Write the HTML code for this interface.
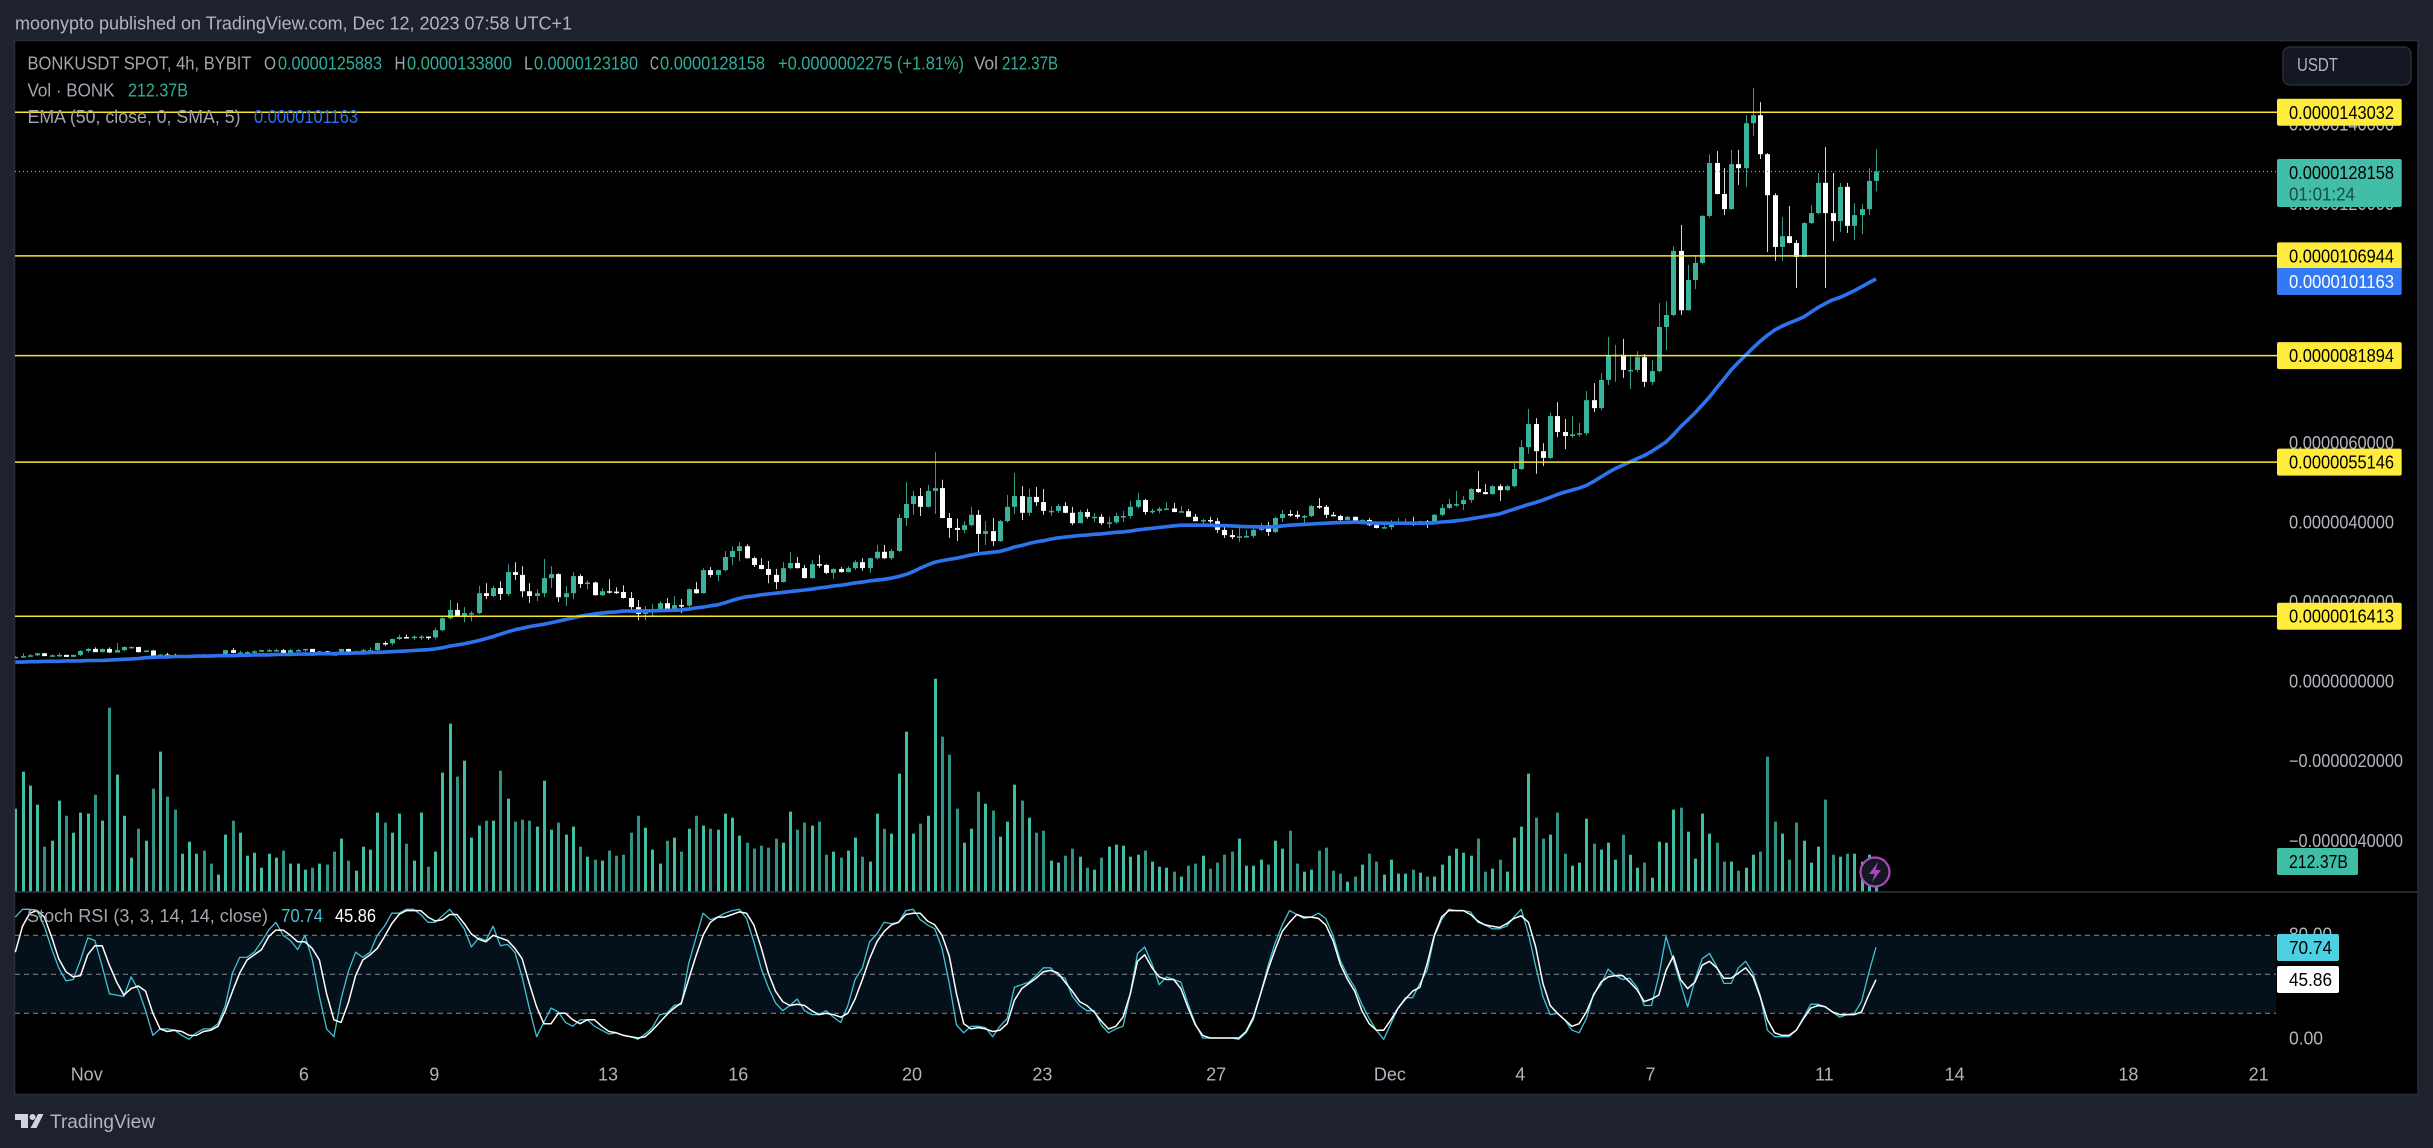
<!DOCTYPE html>
<html lang="en">
<head>
<meta charset="utf-8">
<title>BONKUSDT chart</title>
<style>
html,body{margin:0;padding:0;background:#1e222d;width:2433px;height:1148px;overflow:hidden}
svg{display:block;font-family:"Liberation Sans",sans-serif}
</style>
</head>
<body>
<svg id="chart" xmlns="http://www.w3.org/2000/svg" width="2433" height="1148" viewBox="0 0 2433 1148">
  <defs><clipPath id="plotClip"><rect x="15" y="41" width="2262" height="1053"/></clipPath></defs>
  <rect x="0" y="0" width="2433" height="1148" fill="#1e222d"/>
  <text x="15" y="29.5" font-size="18" fill="#b2b5be" textLength="557" lengthAdjust="spacingAndGlyphs">moonypto published on TradingView.com, Dec 12, 2023 07:58 UTC+1</text>
  <rect x="14.5" y="40.5" width="2403.5" height="1054" fill="#000" stroke="#2a2e39" stroke-width="1.5"/>
  <rect x="15.5" y="935.3" width="2260.5" height="78" fill="#05111a"/>
  <g id="priceTicks"></g>
  <g id="stochTicks"></g>
  <g id="stochGuides"></g>
  <g id="volumeBars" clip-path="url(#plotClip)"></g>
  <g id="candles" clip-path="url(#plotClip)"></g>
  <path id="emaLine" fill="none" stroke="#2e73ee" stroke-width="3.6" stroke-linejoin="round" clip-path="url(#plotClip)"/>
  <path id="kLine" fill="none" stroke="#3fc3d6" stroke-width="1.3" stroke-linejoin="round"/>
  <path id="dLine" fill="none" stroke="#ffffff" stroke-width="1.5" stroke-linejoin="round"/>
  <g id="hLines"></g>
  <line id="lastLine" x1="15" x2="2276" stroke="#40bda5" stroke-width="1.3" stroke-dasharray="1 3"/>
  <line x1="15" x2="2418" y1="892" y2="892" fill="none" stroke="#2f3240" stroke-width="1.5"/>

  <g font-size="18">
    <text x="27.5" y="69.5" fill="#a3a6af" textLength="224" lengthAdjust="spacingAndGlyphs">BONKUSDT SPOT, 4h, BYBIT</text>
    <text x="264" y="69.5" fill="#a3a6af" textLength="12" lengthAdjust="spacingAndGlyphs">O</text>
    <text x="278" y="69.5" fill="#2fae96" textLength="104" lengthAdjust="spacingAndGlyphs">0.0000125883</text>
    <text x="394.5" y="69.5" fill="#a3a6af" textLength="11" lengthAdjust="spacingAndGlyphs">H</text>
    <text x="407" y="69.5" fill="#2fae96" textLength="105" lengthAdjust="spacingAndGlyphs">0.0000133800</text>
    <text x="524" y="69.5" fill="#a3a6af" textLength="9" lengthAdjust="spacingAndGlyphs">L</text>
    <text x="534" y="69.5" fill="#2fae96" textLength="104" lengthAdjust="spacingAndGlyphs">0.0000123180</text>
    <text x="650" y="69.5" fill="#a3a6af" textLength="9" lengthAdjust="spacingAndGlyphs">C</text>
    <text x="660" y="69.5" fill="#2fae96" textLength="105" lengthAdjust="spacingAndGlyphs">0.0000128158</text>
    <text x="778" y="69.5" fill="#2fae96" textLength="186" lengthAdjust="spacingAndGlyphs">+0.0000002275 (+1.81%)</text>
    <text x="974" y="69.5" fill="#a3a6af" textLength="24" lengthAdjust="spacingAndGlyphs">Vol</text>
    <text x="1002" y="69.5" fill="#2fae96" textLength="56" lengthAdjust="spacingAndGlyphs">212.37B</text>
    <text x="27.5" y="96.5" fill="#a3a6af" textLength="87" lengthAdjust="spacingAndGlyphs">Vol · BONK</text>
    <text x="128" y="96.5" fill="#2fae96" textLength="60" lengthAdjust="spacingAndGlyphs">212.37B</text>
    <text x="27.5" y="123" fill="#a3a6af" textLength="213" lengthAdjust="spacingAndGlyphs">EMA (50, close, 0, SMA, 5)</text>
    <text x="254" y="123" fill="#2e73ee" textLength="104" lengthAdjust="spacingAndGlyphs">0.0000101163</text>
    <text x="27" y="922" fill="#a3a6af" textLength="241" lengthAdjust="spacingAndGlyphs">Stoch RSI (3, 3, 14, 14, close)</text>
    <text x="281" y="922" fill="#3fc3d6" textLength="42" lengthAdjust="spacingAndGlyphs">70.74</text>
    <text x="335" y="922" fill="#ffffff" textLength="41" lengthAdjust="spacingAndGlyphs">45.86</text>
  </g>

  <g>
    <rect x="2283" y="47" width="128" height="38" rx="7" fill="#131722" stroke="#2a2e39" stroke-width="1.5"/>
    <text x="2297" y="71" font-size="18" fill="#b2b5be" textLength="41" lengthAdjust="spacingAndGlyphs">USDT</text>
  </g>

  <g id="hBoxes"></g>

  <g>
    <rect x="2277" y="159" width="124.700" height="48" rx="2" fill="#42bda8"/>
    <text x="2289" y="179" font-size="18" fill="#000" textLength="105" lengthAdjust="spacingAndGlyphs">0.0000128158</text>
    <text x="2289" y="200.500" font-size="18" fill="#174d42" textLength="66" lengthAdjust="spacingAndGlyphs">01:01:24</text>
  </g>
  <g>
    <rect x="2277" y="268" width="124.700" height="27" rx="2" fill="#3179f5"/>
    <text x="2289" y="288" font-size="18" fill="#fff" textLength="105" lengthAdjust="spacingAndGlyphs">0.0000101163</text>
  </g>
  <g>
    <rect x="2277" y="848" width="81" height="27" rx="2" fill="#40bda5"/>
    <text x="2289" y="868" font-size="18" fill="#000" textLength="59" lengthAdjust="spacingAndGlyphs">212.37B</text>
  </g>
  <g>
    <rect x="2277" y="934" width="62" height="27" rx="2" fill="#4dd0e1"/>
    <text x="2289" y="954" font-size="18" fill="#000" textLength="43" lengthAdjust="spacingAndGlyphs">70.74</text>
  </g>
  <g>
    <rect x="2277" y="966" width="62" height="27" rx="2" fill="#fff"/>
    <text x="2289" y="986" font-size="18" fill="#000" textLength="43" lengthAdjust="spacingAndGlyphs">45.86</text>
  </g>

  <g id="timeAxis"></g>

  <g>
    <circle cx="1875" cy="872" r="14.500" fill="#131722" stroke="#ab47bc" stroke-width="2.200"/>
    <path d="M1878 862 L1869 874 L1874.500 874 L1872 882 L1881 870 L1875.500 870 Z" fill="#ab47bc"/>
  </g>

  <g>
    <path d="M15 1114 H28 V1128 H21 V1120 H15 Z M38 1114 H43.500 L36.500 1128 H30.500 Z" fill="#d1d4dc"/>
    <circle cx="32.500" cy="1117" r="3" fill="#d1d4dc"/>
    <text x="50" y="1128" font-size="19" fill="#b2b5be" textLength="105" lengthAdjust="spacingAndGlyphs">TradingView</text>
  </g>
</svg>
<script>
// All prices are in units of 1e-8 USDT. Volumes are in billions of BONK.
const closes = [62,64,66,71,64,66,67,62,67,77,82,74,82,73,79,87,87,74,78,62,68,67,62,63,63,67,65,63,69,79,72,73,74,76,79,79,79,72,79,79,82,74,76,69,67,82,74,76,79,79,97,96,107,112,111,113,113,111,129,159,180,163,172,172,222,215,235,220,275,268,227,215,222,260,270,212,222,265,245,249,217,227,226,225,210,187,170,182,182,197,177,192,191,232,222,280,268,280,313,328,340,310,293,283,268,250,285,298,285,260,295,293,273,283,275,285,300,285,310,326,310,328,411,446,466,439,479,486,411,386,381,393,419,371,378,353,403,439,466,424,464,451,429,429,441,424,398,426,414,414,398,400,416,416,439,456,426,429,434,435,426,428,414,403,406,403,381,368,363,365,366,381,393,376,411,421,419,414,416,441,439,419,416,406,414,403,406,393,386,388,398,398,400,396,403,401,419,436,446,446,456,484,476,471,491,481,491,534,589,647,579,562,667,627,617,621,624,707,687,758,820,821,783,783,815,753,780,891,921,1082,933,1009,1052,1170,1303,1225,1187,1300,1290,1403,1423,1325,1222,1092,1119,1102,1067,1152,1177,1253,1177,1157,1243,1145,1172,1187,1258,1281.58];
const highs = [64,71,69,72,72,68,72,67,68,79,84,86,83,86,97,88,88,87,79,80,69,72,70,67,67,67,69,67,70,80,84,77,76,79,80,82,82,82,82,82,82,82,77,77,72,82,82,78,82,86,98,101,108,118,118,115,117,113,136,162,205,197,187,177,240,247,240,252,295,300,290,247,232,308,290,272,240,275,270,255,251,235,257,237,242,225,205,190,195,202,210,215,207,234,250,285,288,281,328,340,350,345,314,310,303,283,300,325,313,293,305,318,295,284,288,290,305,310,311,343,343,333,421,501,479,486,494,577,507,424,409,403,439,431,403,411,406,469,524,491,484,489,484,441,446,451,439,431,434,424,421,414,424,429,454,474,459,434,439,451,449,441,434,421,409,414,411,393,381,386,381,386,398,401,414,431,431,429,419,444,461,444,426,419,416,414,408,411,397,393,406,411,409,414,404,406,421,446,459,479,466,486,529,496,494,496,494,549,607,685,662,599,675,702,660,667,650,730,750,775,866,846,861,820,830,823,808,951,956,1094,1147,1047,1072,1172,1325,1333,1290,1336,1336,1423,1491,1456,1328,1227,1167,1195,1109,1154,1197,1278,1343,1278,1253,1253,1202,1200,1290,1338];
const lows = [60,61,62,64,64,64,62,62,64,64,73,74,73,72,74,76,84,73,77,61,57,62,60,61,60,59,60,60,60,66,71,72,72,73,74,76,76,71,71,76,74,74,74,69,66,67,73,74,76,76,75,90,91,104,108,104,104,105,107,126,156,162,149,152,169,207,212,205,215,255,212,197,202,212,235,200,190,207,235,232,216,215,221,220,209,173,154,154,165,179,175,175,172,186,221,221,262,252,277,293,303,309,288,282,247,232,249,282,284,259,259,286,270,258,274,274,280,278,273,307,308,305,325,391,419,416,438,421,410,361,353,373,390,326,343,341,351,400,421,406,416,441,419,416,424,423,393,398,409,401,393,386,396,401,409,435,419,421,423,433,425,426,413,403,388,398,373,361,358,351,361,361,378,366,373,401,414,409,398,413,434,411,415,403,403,403,398,391,385,386,381,396,397,391,395,386,400,415,433,439,431,449,474,470,470,454,479,488,531,572,522,542,559,614,584,612,615,619,677,682,745,753,763,735,778,740,745,777,833,918,921,933,986,1048,1166,1224,1172,1186,1248,1243,1371,1313,1079,1057,1057,1101,989,1066,1149,1174,989,1107,1130,1127,1109,1124,1172,1232];
const emaValues = [49,49,50,50,51,51,51,52,52,52,53,53,53,54,55,56,57,58,60,61,62,62,63,63,63,64,64,64,65,65,65,66,66,67,67,67,68,68,68,69,69,69,70,70,70,71,71,72,72,73,73,74,75,76,77,78,79,80,82,85,89,92,95,99,103,108,113,119,125,130,134,138,141,144,148,152,156,160,164,167,170,172,174,175,177,177,177,177,178,178,179,179,180,182,185,187,190,193,198,204,209,213,215,218,220,222,224,226,228,230,232,235,237,240,242,245,248,250,253,255,257,260,264,269,276,285,293,300,304,307,310,314,318,321,323,325,327,332,338,342,347,351,354,358,361,363,365,367,368,370,371,373,375,376,378,381,383,385,387,389,391,393,393,393,393,393,392,392,391,390,389,389,388,388,389,391,393,394,395,396,397,398,399,400,400,401,400,399,398,398,398,398,398,398,398,398,399,401,402,404,406,409,412,415,418,421,427,433,439,445,450,456,463,470,476,481,486,493,503,514,525,535,544,552,560,568,578,590,602,620,640,657,675,695,715,738,760,783,802,820,838,855,870,883,893,901,908,916,928,940,950,959,965,973,982,992,1002,1011.63];
const volumes = [590,852,753,618,321,363,647,540,420,562,555,689,505,1305,831,540,243,448,363,732,994,675,583,271,356,271,293,201,123,406,505,420,257,278,172,271,243,293,201,201,158,172,201,194,286,378,222,151,321,300,562,491,420,555,342,222,562,179,286,845,1192,817,930,385,470,505,505,859,661,498,512,505,463,788,441,491,406,463,321,250,229,222,293,257,264,420,540,455,300,201,363,385,286,448,540,470,448,441,555,526,399,349,307,328,314,378,349,569,441,
491,470,498,264,286,243,293,385,250,215,555,448,413,838,1135,413,484,540,1510,1100,972,590,349,448,710,625,576,392,498,760,647,526,420,434,222,208,257,307,250,172,158,243,321,335,328,250,264,293,215,179,172,144,109,186,201,257,165,208,264,286,378,186,186,229,194,363,307,434,201,144,158,293,314,151,130,73,109,194,271,215,123,229,130,130,158,137,109,109,194,257,307,278,257,378,144,165,229,144,385,463,838,526,378,406,562,271,186,208,519,342,300,
349,229,406,264,172,208,101,356,349,583,597,427,236,555,413,349,215,215,151,172,264,286,958,498,413,229,491,363,208,321,654,264,250,271,271,215,264,212.37];
const stochK = [94,100,100,99,87,70,55,45,46,61,78,76,56,35,34,33,48,38,22,3,8,8,7,3,0,5,8,8,12,26,51,63,63,67,75,84,90,80,76,69,80,62,33,8,2,31,52,67,63,67,80,87,97,97,100,100,96,90,90,95,100,93,85,71,78,76,87,72,73,67,48,24,2,13,24,21,13,10,15,15,10,7,4,5,3,2,0,4,9,19,20,26,27,58,78,97,92,94,97,99,100,93,75,55,40,28,22,26,31,22,19,19,22,17,13,26,46,55,75,81,90,89,90,99,100,92,88,85,70,43,11,5,10,10,9,2,10,16,40,42,44,49,55,55,49,47,33,26,22,22,11,5,8,10,35,66,71,58,42,48,46,44,27,12,1,1,1,1,1,0,5,15,35,56,74,88,99,96,93,94,97,93,80,61,49,40,27,16,7,0,12,24,32,32,43,53,79,92,100,99,99,98,90,88,85,85,87,94,100,81,56,33,19,20,15,7,5,16,35,42,54,49,46,47,40,26,26,49,79,61,43,25,46,62,66,56,43,43,55,60,51,34,7,2,2,2,7,17,27,27,25,21,17,19,20,29,51,70.74];
const stochD = [67,87,97,99,94,79,62,52,48,49,65,72,72,57,44,34,39,41,37,20,8,6,7,6,3,3,6,7,10,22,37,51,61,65,69,79,84,84,80,75,75,70,61,35,15,13,28,49,61,65,70,79,89,96,99,99,99,94,91,92,96,96,89,81,77,75,80,78,76,70,62,43,25,12,12,20,20,15,12,15,15,10,6,5,3,2,1,2,7,13,19,24,28,46,64,80,90,94,94,96,98,97,88,71,51,37,29,26,27,26,22,19,20,19,17,20,31,46,62,75,83,88,90,96,97,97,91,88,80,64,35,12,8,9,8,6,7,12,30,39,43,47,52,53,51,44,37,29,26,21,14,8,10,17,35,60,65,55,48,46,46,39,24,11,3,1,1,1,1,1,6,17,35,53,69,83,90,96,94,94,93,88,76,58,46,37,22,12,7,7,15,24,31,37,40,58,80,94,99,99,99,96,91,88,87,86,89,93,95,90,71,43,26,20,15,10,12,21,34,44,48,49,49,44,38,29,31,34,53,64,46,39,44,57,60,55,47,47,51,55,48,33,15,5,3,3,7,16,24,26,25,21,19,19,19,21,34,45.86];
const priceTickValues = [1400,1200,1000,800,600,400,200,0,-200,-400];
const levelValues = [1430.32,1069.44,818.94,551.46,164.13];
const lastPrice = 1281.58;
const stochGuideValues = [80,50,20];
const stochTickValues = [80,40,0];
const timeLabels = ['Nov','6','9','13','16','20','23','27','Dec','4','7','11','14','18','21'];
const timeBarIndex = [10,40,58,82,100,124,142,166,190,208,226,250,268,292,310];

const NS = 'http://www.w3.org/2000/svg';
function xAt(i){ return 15.3 + 7.24 * i; }
function yPrice(p){ return 112.3 + (1430.32 - p) * 0.398; }
function yVolume(v){ return 892 - v / 7.08; }
function yStoch(v){ return 1039.3 - v * 1.3; }
function make(tag, parent, attrs){
  const el = document.createElementNS(NS, tag);
  for (const k in attrs) el.setAttribute(k, attrs[k]);
  parent.appendChild(el);
  return el;
}
function priceText(p){ return (p * 1e-8).toFixed(10).replace('-', '\u2212'); }

const gTicks = document.getElementById('priceTicks');
priceTickValues.forEach(function(p){
  const t = make('text', gTicks, {x:2289, y:yPrice(p)+6, 'font-size':18, fill:'#b2b5be', textLength: p < 0 ? 114 : 105, lengthAdjust:'spacingAndGlyphs'});
  
  
  t.textContent = priceText(p);
});

const gSTicks = document.getElementById('stochTicks');
stochTickValues.forEach(function(v){
  const t = make('text', gSTicks, {x:2289, y:yStoch(v)+5, 'font-size':18, fill:'#b2b5be', textLength: v > 0 ? 43 : 34, lengthAdjust:'spacingAndGlyphs'});
  
  
  t.textContent = v.toFixed(2);
});

const gGuides = document.getElementById('stochGuides');
stochGuideValues.forEach(function(v){
  const l = make('line', gGuides, {x1:15, x2:2276, y1:yStoch(v), y2:yStoch(v), stroke:'#787b86', 'stroke-width':1.2, 'stroke-dasharray':'5 4'});
  
  
});

const gVol = document.getElementById('volumeBars');
volumes.forEach(function(v, i){
  const up = i === 0 || closes[i] >= closes[i-1];
  const r = make('rect', gVol, {x:Math.round(xAt(i))-1, y:yVolume(v), width:3, height:892-yVolume(v), fill: up ? '#3fbfa6' : '#2f9486'});
  
  
});

const gCandles = document.getElementById('candles');
closes.forEach(function(c, i){
  const o = i === 0 ? c : closes[i-1];
  const up = c >= o;
  const x = Math.round(xAt(i));
  const w = make('line', gCandles, {x1:x+0.5, x2:x+0.5, y1:yPrice(highs[i]), y2:yPrice(lows[i]), stroke: up ? '#2f9d88' : '#d8d8d8', 'stroke-width':1});
  
  
  const top = yPrice(Math.max(o, c));
  const h = Math.max(1.5, Math.abs(yPrice(o) - yPrice(c)));
  const b = make('rect', gCandles, {x:x-2, y:top, width:5, height:h, fill: up ? '#3bb39c' : '#ffffff'});
  
  
});

function linePath(values, yFn){
  return values.map(function(v, i){ return (i ? 'L' : 'M') + xAt(i).toFixed(1) + ' ' + yFn(v).toFixed(1); }).join(' ');
}
document.getElementById('emaLine').setAttribute('d', linePath(emaValues, yPrice));
document.getElementById('kLine').setAttribute('d', linePath(stochK, yStoch));
document.getElementById('dLine').setAttribute('d', linePath(stochD, yStoch));

const lastY = yPrice(lastPrice);
const lastLine = document.getElementById('lastLine');
lastLine.setAttribute('y1', lastY);
lastLine.setAttribute('y2', lastY);

const gLines = document.getElementById('hLines');
const gBoxes = document.getElementById('hBoxes');
levelValues.forEach(function(p){
  const y = yPrice(p);
  const l = make('line', gLines, {x1:15, x2:2277, y1:y, y2:y, stroke:'#f7e52c', 'stroke-width':1.5});
  
  
  const r = make('rect', gBoxes, {x:2277, y:y-13.5, width:124.7, height:27, rx:2, fill:'#ffeb3b'});
  
  
  const t = make('text', gBoxes, {x:2289, y:y+6.5, 'font-size':18, fill:'#000', textLength:105, lengthAdjust:'spacingAndGlyphs'});
  
  
  t.textContent = priceText(p);
});

const gTime = document.getElementById('timeAxis');
timeLabels.forEach(function(label, k){
  const t = make('text', gTime, {x:xAt(timeBarIndex[k])-1, y:1080.5, 'font-size':18, fill:'#b2b5be', 'text-anchor':'middle'});
  
  
  t.textContent = label;
});
</script>
</body>
</html>
